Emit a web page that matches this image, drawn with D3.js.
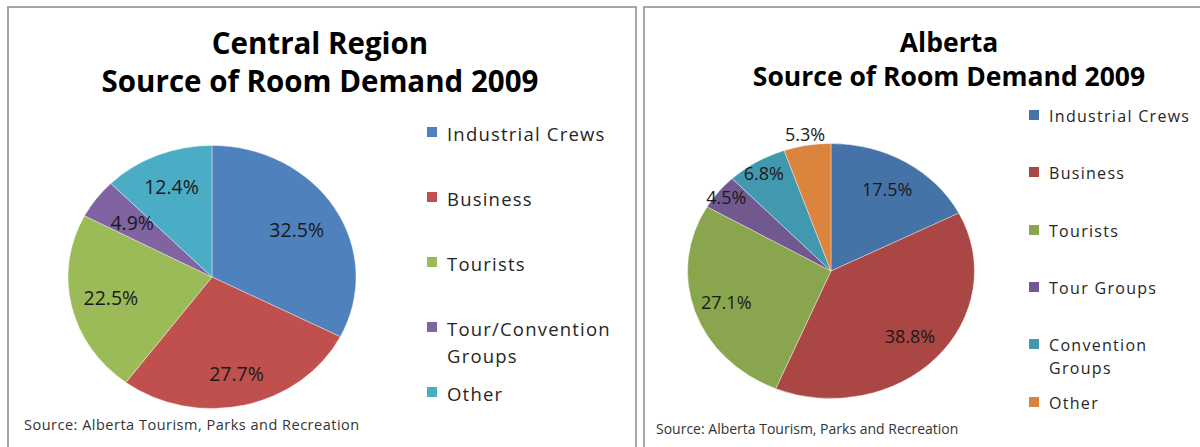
<!DOCTYPE html>
<html>
<head>
<meta charset="utf-8">
<script src="https://cdn.jsdelivr.net/npm/d3@7"></script>
<style>
  html, body { margin: 0; padding: 0; background: #fff; }
  svg { display: block; font-family: "Open Sans", "Noto Sans", sans-serif; }
  .panel { fill: #fff; stroke: #a6a6a6; stroke-width: 2; }
  .title { font-weight: bold; fill: #000; text-anchor: middle; }
  .label { fill: #1a1a1a; text-anchor: middle; dominant-baseline: central; }
  .legend text { fill: #262626; dominant-baseline: central; }
  .source { fill: #333; }
</style>
</head>
<body>
<svg id="chart" width="1200" height="447"></svg>
<script>
// Central Region data
const centralCategories = ["Industrial Crews", "Business", "Tourists", "Tour/Convention Groups", "Other"];
const centralValues = [32.5, 27.7, 22.5, 4.9, 12.4];

// Alberta data
const albertaCategories = ["Industrial Crews", "Business", "Tourists", "Tour Groups", "Convention Groups", "Other"];
const albertaValues = [17.5, 38.8, 27.1, 4.5, 6.8, 5.3];

const sourceNote = "Source: Alberta Tourism, Parks and Recreation";

const svg = d3.select("#chart");

// one chart per panel, layout only in here
const charts = [
  {
    panel: { x: 8, y: 7, w: 628, h: 460 },
    titles: ["Central Region", "Source of Room Demand 2009"],
    titleY: [42, 80], titleX: 320, titleSize: 29.5,
    categories: centralCategories,
    values: centralValues,
    colors: ["#4f81bd", "#c0504d", "#9bbb59", "#8064a2", "#4bacc6"],
    cx: 212, cy: 277, r: 131.5, sx: 1.095,
    labelR: [0.69, 0.75, 0.72, 0.69, 0.74],
    labelSize: 19.5,
    legend: { x: 427, rows: [133, 198, 263, 328, 393], size: 18.5, spacing: 1.2, lineH: 27, box: 10 },
    source: { x: 24, y: 424, size: 14.5, spacing: 0.5 }
  },
  {
    panel: { x: 644, y: 7, w: 600, h: 460 },
    titles: ["Alberta", "Source of Room Demand 2009"],
    titleY: [42, 76], titleX: 949, titleSize: 26.5,
    categories: albertaCategories,
    values: albertaValues,
    colors: ["#4572a7", "#aa4643", "#89a54e", "#71588f", "#4198af", "#db843d"],
    cx: 831, cy: 271, r: 127.5, sx: 1.125,
    labelR: [0.75, 0.75, 0.77, 0.93, 0.9, 1.09],
    labelSize: 18,
    legend: { x: 1029, rows: [116, 173, 231, 288, 345, 403], size: 16, spacing: 1.3, lineH: 23, box: 10 },
    source: { x: 656, y: 428, size: 14, spacing: 0 }
  }
];

charts.forEach(c => {
  svg.append("rect").attr("class", "panel")
    .attr("x", c.panel.x).attr("y", c.panel.y)
    .attr("width", c.panel.w).attr("height", c.panel.h);

  svg.selectAll(null).data(c.titles).enter().append("text")
    .attr("class", "title")
    .attr("x", c.titleX)
    .attr("y", (d, i) => c.titleY[i])
    .attr("dominant-baseline", "central")
    .attr("font-size", c.titleSize)
    .text(d => d);

  const pie = d3.pie().sort(null).value(d => d)(c.values);
  const arc = d3.arc().innerRadius(0).outerRadius(c.r);

  // the original pies are slightly stretched horizontally
  const g = svg.append("g")
    .attr("transform", `translate(${c.cx},${c.cy}) scale(${c.sx},1)`);

  g.selectAll("path").data(pie).enter().append("path")
    .attr("d", arc)
    .attr("fill", (d, i) => c.colors[i])
    .attr("stroke", "rgba(255,255,255,0.45)")
    .attr("stroke-width", 0.8);

  const lg = svg.append("g");
  lg.selectAll("text").data(pie).enter().append("text")
    .attr("class", "label")
    .attr("font-size", c.labelSize)
    .attr("x", (d, i) => {
      const lr = c.r * c.labelR[i];
      return c.cx + d3.arc().innerRadius(lr).outerRadius(lr).centroid(d)[0] * c.sx;
    })
    .attr("y", (d, i) => {
      const lr = c.r * c.labelR[i];
      return c.cy + d3.arc().innerRadius(lr).outerRadius(lr).centroid(d)[1];
    })
    .text(d => d.data.toFixed(1) + "%");

  const legend = svg.append("g").attr("class", "legend");
  const items = legend.selectAll("g").data(c.categories).enter().append("g")
    .attr("transform", (d, i) => `translate(${c.legend.x},${c.legend.rows[i]})`);
  items.append("rect")
    .attr("x", 0).attr("y", -c.legend.box / 2 - 1)
    .attr("width", c.legend.box).attr("height", c.legend.box)
    .attr("fill", (d, i) => c.colors[i]);
  items.each(function(d) {
    // two-word "Groups" entries wrap like the original
    const lines = d.endsWith(" Groups") && d.length > 12 ? [d.replace(" Groups", ""), "Groups"] : [d];
    d3.select(this).selectAll("text").data(lines).enter().append("text")
      .attr("x", c.legend.box + 10)
      .attr("y", (t, j) => j * c.legend.lineH)
      .attr("font-size", c.legend.size)
      .attr("letter-spacing", c.legend.spacing)
      .text(t => t);
  });

  svg.append("text").attr("class", "source")
    .attr("x", c.source.x).attr("y", c.source.y)
    .attr("dominant-baseline", "central")
    .attr("font-size", c.source.size)
    .attr("letter-spacing", c.source.spacing)
    .text(sourceNote);
});
</script>
</body>
</html>
